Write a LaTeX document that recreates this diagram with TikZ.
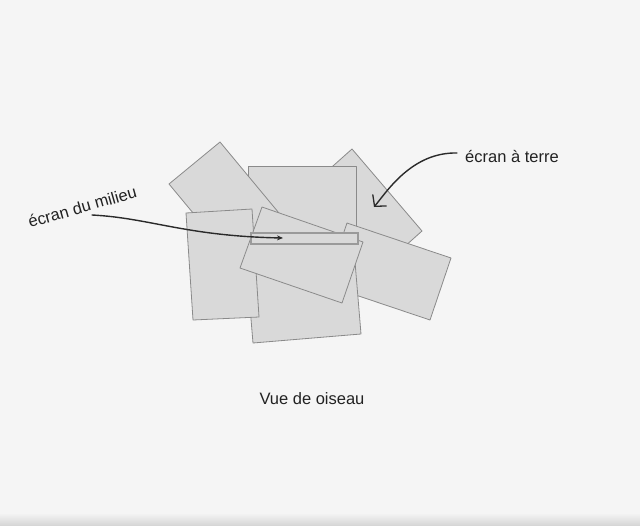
\documentclass[tikz,border=0pt]{standalone}
\usepackage{fontspec}
\setmainfont{Liberation Sans}
\usetikzlibrary{arrows.meta}
\definecolor{bgc}{HTML}{F5F5F5}
\definecolor{cardfill}{HTML}{D9D9D9}
\definecolor{cardline}{HTML}{8A8A8A}
\definecolor{barline}{HTML}{9A9A9A}
\definecolor{ink}{HTML}{222222}
\definecolor{pen}{HTML}{2A2A2A}
\begin{document}
\begin{tikzpicture}[x=1pt,y=-1pt,
  card/.style={fill=cardfill,draw=cardline,line width=0.8pt,line join=round},
  bar/.style={fill=cardfill,draw=barline,line width=1.2pt},
  lbl/.style={text=ink,font=\fontsize{16.5}{19}\selectfont,inner sep=0pt},
  penline/.style={draw=pen,line width=1.4pt,line cap=round}]
\useasboundingbox (0,0) rectangle (640,525);
\fill[bgc] (0,0) rectangle (640,525);
\shade[top color=bgc,bottom color=black!16] (0,513) rectangle (640,525);
% cards, back to front
\draw[card] (352,149) -- (422,231) -- (366,281) -- (296,199) -- cycle;   % C
\draw[card] (248,166) rectangle (356,262);                               % D
\draw[card] (169,184) -- (220,142) -- (303,242) -- (252,284) -- cycle;   % A
\draw[card] (347,223) -- (451,258) -- (430,320) -- (326,285) -- cycle;   % F
\draw[card] (245.6,254) -- (353.6,245) -- (361,334) -- (253,343) -- cycle; % E
\draw[card] (186,213) -- (252,209) -- (259,317) -- (193,320) -- cycle;   % B
\draw[card] (262,207) -- (363,242) -- (342,303) -- (240,268) -- cycle;   % G
\draw[bar] (251,233) rectangle (358,244);                                % H
% labels
\node[lbl,anchor=base west,rotate=16] (milieu) at (30,228) {écran du milieu};
\node[lbl,anchor=base west] (terre) at (465,162) {écran à terre};
\node[lbl] (vue) at (312,399) {Vue de oiseau};
% connector ends
\coordinate (mstart) at (92,215);
\coordinate (mend) at (283,238);
\coordinate (tstart) at (457,153);
\coordinate (tend) at (374,207);
\draw[penline,-{Stealth[length=6pt,width=5pt]}] (mstart) .. controls (150,218) and (185,236) .. (mend);
\draw[penline,-{Straight Barb[length=8pt,width=18pt,line width=1.3pt]}] (tstart) .. controls (412,152) and (386.8,191.6) .. (tend);
\end{tikzpicture}
\end{document}
